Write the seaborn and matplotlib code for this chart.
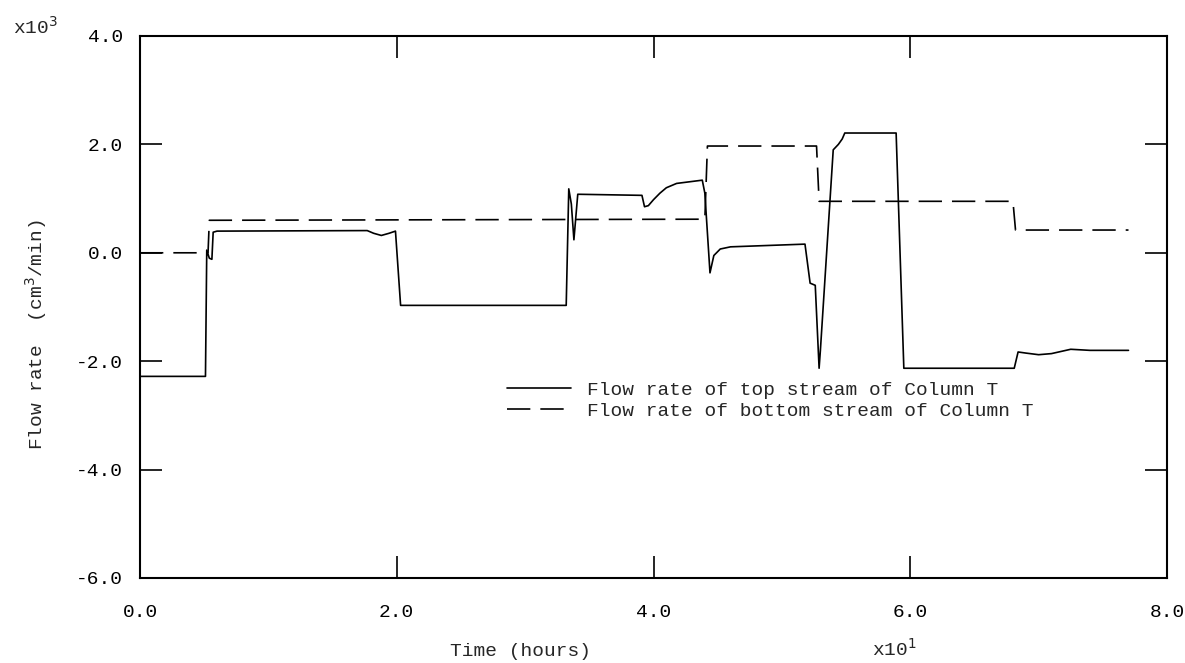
import matplotlib
matplotlib.use("Agg")
import matplotlib.pyplot as plt
import seaborn as sns
import pandas as pd
from matplotlib.lines import Line2D

# time in units of x10^1 hours, flow in units of x10^3 cm3/min
top_time = [0.0, 0.51, 0.52, 0.54, 0.56, 0.57, 0.60, 1.77, 1.82, 1.88, 1.94, 1.99, 2.03,
            3.32, 3.34, 3.36, 3.38, 3.41, 3.91, 3.93, 3.96, 4.00, 4.05, 4.10, 4.18, 4.38,
            4.40, 4.44, 4.47, 4.52, 4.60, 5.18, 5.22, 5.26, 5.29, 5.30, 5.40, 5.44, 5.47,
            5.49, 5.89, 5.95, 6.81, 6.84, 6.90, 7.00, 7.10, 7.25, 7.40, 7.70]
top_flow = [-2.28, -2.28, 0.05, -0.10, -0.12, 0.38, 0.40, 0.41, 0.36, 0.32, 0.36, 0.40, -0.97,
            -0.97, 1.18, 0.90, 0.24, 1.08, 1.06, 0.85, 0.87, 0.98, 1.10, 1.20, 1.28, 1.34,
            1.10, -0.37, -0.05, 0.07, 0.11, 0.16, -0.56, -0.60, -2.13, -1.80, 1.90, 2.00, 2.10,
            2.21, 2.21, -2.13, -2.13, -1.83, -1.85, -1.88, -1.86, -1.78, -1.80, -1.80]

bottom_time = [0.0, 0.53, 0.54, 4.40, 4.42, 5.27, 5.29, 6.80, 6.82, 7.70]
bottom_flow = [0.0, 0.0, 0.60, 0.62, 1.97, 1.97, 0.95, 0.95, 0.42, 0.42]

labels = ["Flow rate of top stream of Column T", "Flow rate of bottom stream of Column T"]
x_ticks = [0.0, 2.0, 4.0, 6.0, 8.0]
y_ticks = [-6.0, -4.0, -2.0, 0.0, 2.0, 4.0]

df = pd.concat([
    pd.DataFrame({"time": top_time, "flow": top_flow, "series": labels[0]}),
    pd.DataFrame({"time": bottom_time, "flow": bottom_flow, "series": labels[1]}),
])

sns.set_style("white")
plt.rcParams["font.family"] = ["Liberation Mono", "DejaVu Sans Mono"]
plt.rcParams["axes.unicode_minus"] = False

fig = plt.figure(figsize=(11.85, 6.63), dpi=100)
ax = fig.add_axes([140 / 1185, 85 / 663, 1027 / 1185, 542 / 663])

sns.lineplot(data=df, x="time", y="flow", hue="series", style="series",
             palette=["black", "black"], dashes=[(None, None), (14, 6)],
             estimator=None, sort=False, linewidth=1.2, ax=ax, legend=False)

ax.set_xlim(0, 8)
ax.set_ylim(-6, 4)
ax.set_xticks(x_ticks)
ax.set_yticks(y_ticks)
ax.set_xticklabels(["%.1f" % v for v in x_ticks], fontsize=14)
ax.set_yticklabels(["%.1f" % v for v in y_ticks], fontsize=14)
ax.tick_params(direction="in", length=16, width=1.2, top=True, right=True,
               bottom=True, left=True, color="black", labelcolor="black")
ax.tick_params(axis="x", pad=19)
ax.tick_params(axis="y", pad=12)
for s in ax.spines.values():
    s.set_color("black")
    s.set_linewidth(1.5)
ax.set_xlabel("")
ax.set_ylabel("")

# legend
handles = [Line2D([], [], color="black", lw=1.2),
           Line2D([], [], color="black", lw=1.2, dashes=(14, 6))]
ax.legend(handles, labels, loc="upper left", bbox_to_anchor=(507 / 1185, 1 - 381 / 663),
          bbox_transform=fig.transFigure, frameon=False, fontsize=14,
          handlelength=3.3, handletextpad=0.8, labelspacing=0.2,
          borderpad=0, borderaxespad=0)

fig.text(13 / 1185, 1 - 34 / 663, "x10$^3$", fontsize=14, ha="left", va="baseline")
fig.text(872 / 1185, 1 - 656 / 663, "x10$^1$", fontsize=14, ha="left", va="baseline")
fig.text(520 / 1185, 1 - 656 / 663, "Time (hours)", fontsize=14, ha="center", va="baseline")
fig.text(36 / 1185, 1 - 335 / 663, "Flow rate  (cm$^3$/min)", fontsize=14,
         rotation=90, ha="center", va="center")

fig.savefig("out.png", dpi=100)
